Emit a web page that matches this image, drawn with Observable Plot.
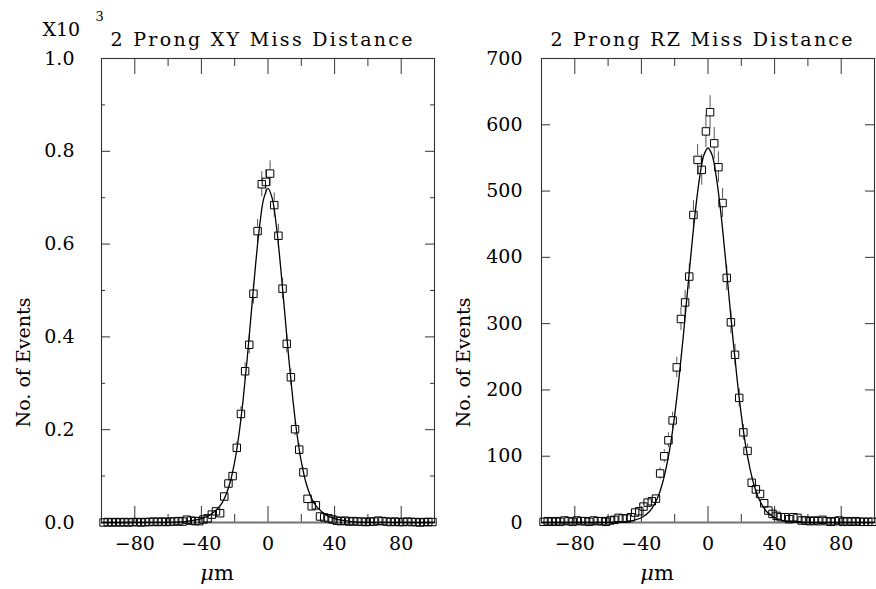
<!DOCTYPE html>
<html><head><meta charset="utf-8">
<script src="https://cdn.jsdelivr.net/npm/d3@7"></script>
<script src="https://cdn.jsdelivr.net/npm/@observablehq/plot@0.6"></script>
<style>
body{margin:0;background:#fff;}
#wrap{position:relative;width:876px;height:589px;overflow:hidden;background:#fff;}
#wrap svg{position:absolute;top:0;}
</style></head><body><div id="wrap"></div>
<script>
// bin centres (2.5 µm bins from -100 to 100)
const binCenters = [-98.75,-96.25,-93.75,-91.25,-88.75,-86.25,-83.75,-81.25,-78.75,-76.25,
 -73.75,-71.25,-68.75,-66.25,-63.75,-61.25,-58.75,-56.25,-53.75,-51.25,
 -48.75,-46.25,-43.75,-41.25,-38.75,-36.25,-33.75,-31.25,-28.75,-26.25,
 -23.75,-21.25,-18.75,-16.25,-13.75,-11.25,-8.75,-6.25,-3.75,-1.25,
 1.25,3.75,6.25,8.75,11.25,13.75,16.25,18.75,21.25,23.75,
 26.25,28.75,31.25,33.75,36.25,38.75,41.25,43.75,46.25,48.75,
 51.25,53.75,56.25,58.75,61.25,63.75,66.25,68.75,71.25,73.75,
 76.25,78.75,81.25,83.75,86.25,88.75,91.25,93.75,96.25,98.75];

// XY miss distance, events in units of 10^3
const xyEvents = [0.000,0.001,0.000,0.001,0.000,0.001,0.000,0.001,0.001,0.000,
 0.001,0.001,0.002,0.001,0.002,0.001,0.002,0.002,0.003,0.002,
 0.006,0.004,0.003,0.003,0.0065,0.009,0.017,0.024,0.020,0.056,
 0.084,0.100,0.161,0.234,0.326,0.383,0.493,0.628,0.729,0.734,
 0.752,0.684,0.618,0.504,0.385,0.313,0.201,0.157,0.108,0.051,
 0.035,0.037,0.013,0.011,0.009,0.0065,0.004,0.003,0.004,0.002,
 0.003,0.002,0.002,0.001,0.002,0.002,0.004,0.003,0.002,0.001,
 0.002,0.001,0.001,0.002,0.001,0.001,0.000,0.001,0.001,0.001];

// RZ miss distance, events
const rzEvents = [1,2,1,2,1,3,2,1,3,2,
 2,1,3,2,2,1,3,4,7,6,
 6,8,15,17,24,30,32,36,74,100,
 124,154,234,307,332,371,464,547,532,590,
 619,572,536,482,369,302,253,188,136,108,
 60,50,43,29,18,13,10,8,8,5,
 8,7,3,3,2,3,2,4,2,1,
 2,3,1,2,1,2,1,1,1,1];

// fitted curves
const fitX = [-100,-70,-60,-50,-45,-40,-35,-30,-27.5,-25,-22.5,-20,-17.5,-15,-12.5,-10,-7.5,-5,-2.5,0,
 2.5,5,7.5,10,12.5,15,17.5,20,22.5,25,27.5,30,35,40,45,50,60,70,100];
const xyFit = [0,0.0001,0.0004,0.0021,0.0044,0.0085,0.016,0.031,0.043,0.062,0.090,0.131,0.188,0.263,0.353,0.454,0.554,0.640,0.699,0.720,
 0.699,0.640,0.554,0.454,0.353,0.263,0.188,0.131,0.090,0.062,0.043,0.031,0.016,0.0085,0.0044,0.0021,0.0004,0.0001,0];
const rzFit = [0,0.02,0.1,1.1,3,7.1,17,39,58,84,118,162,216,277,344,411,472,521,554,565,
 554,521,472,411,344,277,216,162,118,84,58,39,17,7.1,3,1.1,0.1,0.02,0];

const xMajorTicks = [-80,-40,0,40,80];
const xMinorTicks = [-60,-20,20,60];
const xyYTicks = [0,0.2,0.4,0.6,0.8,1.0];
const xyYMinor = [0.1,0.3,0.5,0.7,0.9];
const rzYTicks = [0,100,200,300,400,500,600,700];
const titles = ["2 Prong XY Miss Distance","2 Prong RZ Miss Distance"];
const yLabel = "No. of Events";
const xLabel = "μm";
const scaleNote = ["X10","3"];

const FONT = "'DejaVu Serif', 'Liberation Serif', serif";
const innerW = 333, innerH = 464;

function panel(o) {
  const pts = binCenters.map((x, i) => {
    const v = o.values[i];
    const e = Math.sqrt(v * o.unit) / o.unit;
    return {x, y: v, e, hi: v + e, lo: v - e};
  });
  const bars = pts.filter(d => d.e > o.gap);
  const fit = fitX.map((x, i) => ({x, y: o.fit[i]}));
  const tk = {stroke: "#333", strokeWidth: 1};
  const marks = [
    Plot.ruleX(xMajorTicks, {x: d => d, insetTop: innerH - 16, ...tk}),
    Plot.ruleX(xMajorTicks, {x: d => d, insetBottom: innerH - 16, ...tk}),
    Plot.ruleX(xMinorTicks, {x: d => d, insetTop: innerH - 8, ...tk}),
    Plot.ruleX(xMinorTicks, {x: d => d, insetBottom: innerH - 8, ...tk}),
    Plot.ruleY(o.yTicks, {y: d => d, insetRight: innerW - 9, ...tk}),
    Plot.ruleY(o.yTicks, {y: d => d, insetLeft: innerW - 9, ...tk}),
    Plot.ruleY(o.yMinor, {y: d => d, insetRight: innerW - 4, ...tk}),
    Plot.ruleY(o.yMinor, {y: d => d, insetLeft: innerW - 4, ...tk}),
    Plot.frame({stroke: "#333", strokeWidth: 1.1}),
    Plot.ruleY([0], {stroke: "#777", strokeWidth: 2}),
    Plot.ruleX(bars, {x: "x", y1: "hi", y2: "y", insetBottom: 4, stroke: "#555", strokeWidth: 1}),
    Plot.ruleX(bars, {x: "x", y1: "y", y2: "lo", insetTop: 4, stroke: "#555", strokeWidth: 1}),
    Plot.line(fit, {x: "x", y: "y", curve: "catmull-rom", stroke: "#000", strokeWidth: 1.3}),
    Plot.dot(pts, {x: "x", y: "y", symbol: "square", r: 4.2, stroke: "#000", fill: "none", strokeWidth: 1}),
    Plot.text([o.title], {text: d => d, frameAnchor: "top-left", textAnchor: "start", lineAnchor: "bottom", dx: 9, dy: -13, fontSize: 19, fill: "#000"}),
    Plot.text([yLabel], {text: d => d, frameAnchor: "left", rotate: -90, textAnchor: "middle", lineAnchor: "middle", dx: -78, dy: 72, fontSize: 19, fill: "#000"}),
    Plot.text([xLabel], {text: d => d, frameAnchor: "bottom", textAnchor: "middle", lineAnchor: "bottom", dx: -51, dy: 57, fontSize: 21, fill: "#000"})
  ];
  if (o.note) {
    marks.push(Plot.text([scaleNote[0]], {text: d => d, frameAnchor: "top-left", textAnchor: "start", lineAnchor: "bottom", dx: -59, dy: -23, fontSize: 19, fill: "#000"}));
    marks.push(Plot.text([scaleNote[1]], {text: d => d, frameAnchor: "top-left", textAnchor: "start", lineAnchor: "bottom", dx: -6, dy: -38, fontSize: 13, fill: "#000"}));
  }
  const svg = Plot.plot({
    width: 438, height: 589,
    marginLeft: o.marginLeft, marginRight: o.marginRight, marginTop: 58, marginBottom: 67,
    style: {fontFamily: FONT, fontSize: "19px", color: "#000", background: "transparent", overflow: "visible"},
    x: {domain: [-100, 100], ticks: xMajorTicks, tickFormat: d3.format("d"), tickSize: 0, tickPadding: 14, label: null},
    y: {domain: [0, o.yMax], ticks: o.yTicks, tickFormat: o.fmt, tickSize: 0, tickPadding: o.pad, label: null},
    marks
  });
  svg.style.left = o.left + "px";
  svg.querySelectorAll("text").forEach(t => {
    if (t.textContent === o.title) { t.setAttribute("textLength", 302); t.setAttribute("lengthAdjust", "spacing"); }
    if (t.textContent === xLabel) {
      t.textContent = "";
      const a = document.createElementNS("http://www.w3.org/2000/svg", "tspan");
      a.setAttribute("font-style", "italic"); a.textContent = "μ";
      const b = document.createElementNS("http://www.w3.org/2000/svg", "tspan");
      b.textContent = "m";
      t.appendChild(a); t.appendChild(b);
    }
  });
  return svg;
}

const wrap = document.getElementById("wrap");
wrap.appendChild(panel({values: xyEvents, unit: 1000, gap: 0.0087, fit: xyFit, yMax: 1.0, yTicks: xyYTicks, yMinor: xyYMinor,
  fmt: d3.format(".1f"), pad: 27, marginLeft: 101, marginRight: 4, left: 0, title: titles[0], note: true}));
wrap.appendChild(panel({values: rzEvents, unit: 1, gap: 6, fit: rzFit, yMax: 700, yTicks: rzYTicks, yMinor: [],
  fmt: d3.format("d"), pad: 19, marginLeft: 103, marginRight: 2, left: 438, title: titles[1], note: false}));
</script>
</body></html>
